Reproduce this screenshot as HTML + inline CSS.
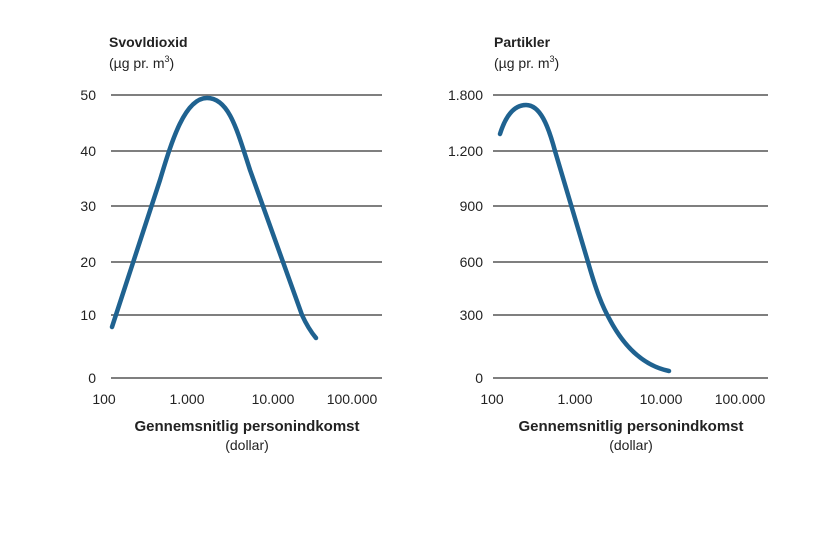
<!DOCTYPE html>
<html><head><meta charset="utf-8"><style>
body{margin:0;background:#fff}
text{font-family:"Liberation Sans",sans-serif;fill:#222}
</style></head><body>
<svg width="814" height="538" viewBox="0 0 814 538" xmlns="http://www.w3.org/2000/svg">
<g stroke="#555" stroke-width="1.6">
<line x1="111" y1="95" x2="382" y2="95"/><line x1="111" y1="151" x2="382" y2="151"/><line x1="111" y1="206" x2="382" y2="206"/><line x1="111" y1="262" x2="382" y2="262"/><line x1="111" y1="315" x2="382" y2="315"/><line x1="111" y1="378" x2="382" y2="378"/>
<line x1="493" y1="95" x2="768" y2="95"/><line x1="493" y1="151" x2="768" y2="151"/><line x1="493" y1="206" x2="768" y2="206"/><line x1="493" y1="262" x2="768" y2="262"/><line x1="493" y1="315" x2="768" y2="315"/><line x1="493" y1="378" x2="768" y2="378"/>
</g>
<path d="M112,327 L160,180 C172,140 185,98 207,98 C229,98 237,130 250,170 L302,315 C307,326 311,332 316,338" fill="none" stroke="#1f6290" stroke-width="4.5" stroke-linecap="round" stroke-linejoin="round"/>
<path d="M500,134 C505,118 513,105 526,105 C540,105 548,125 555,151 L588,262 C596,290 602,306 610,320 C625,348 645,366 669,371" fill="none" stroke="#1f6290" stroke-width="4.5" stroke-linecap="round"/>
<g font-size="14" text-anchor="end">
<text x="96" y="100">50</text><text x="96" y="156">40</text><text x="96" y="211">30</text><text x="96" y="267">20</text><text x="96" y="320">10</text><text x="96" y="383">0</text>
<text x="483" y="100">1.800</text><text x="483" y="156">1.200</text><text x="483" y="211">900</text><text x="483" y="267">600</text><text x="483" y="320">300</text><text x="483" y="383">0</text>
</g>
<g font-size="14" text-anchor="middle">
<text x="104" y="404">100</text><text x="187" y="404">1.000</text><text x="273" y="404">10.000</text><text x="352" y="404">100.000</text>
<text x="492" y="404">100</text><text x="575" y="404">1.000</text><text x="661" y="404">10.000</text><text x="740" y="404">100.000</text>
<text x="247" y="431" font-weight="bold" font-size="15">Gennemsnitlig personindkomst</text>
<text x="247" y="450">(dollar)</text>
<text x="631" y="431" font-weight="bold" font-size="15">Gennemsnitlig personindkomst</text>
<text x="631" y="450">(dollar)</text>
</g>
<text x="109" y="47" font-size="14" font-weight="bold">Svovldioxid</text>
<text x="109" y="68" font-size="14">(µg pr. m<tspan font-size="9" dy="-6">3</tspan><tspan dy="6">)</tspan></text>
<text x="494" y="47" font-size="14" font-weight="bold">Partikler</text>
<text x="494" y="68" font-size="14">(µg pr. m<tspan font-size="9" dy="-6">3</tspan><tspan dy="6">)</tspan></text>
</svg>
</body></html>
